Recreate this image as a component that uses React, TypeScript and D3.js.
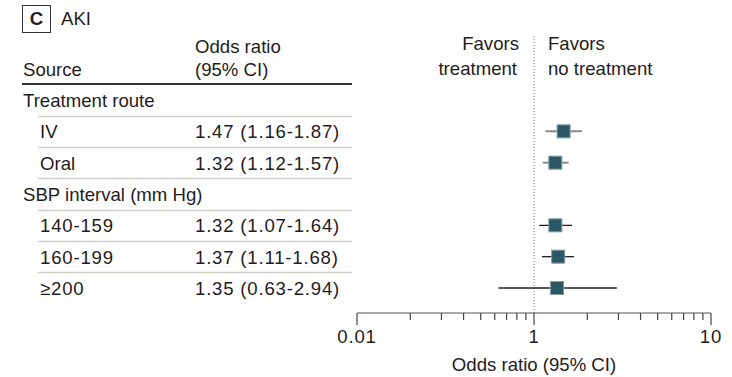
import React, { useEffect, useRef } from "react";
import * as d3 from "d3";

// rows of the forest plot
const labels = ["Treatment route", "IV", "Oral", "SBP interval (mm Hg)", "140-159", "160-199", "≥200"];
const isGroup = [true, false, false, true, false, false, false];
const oddsRatio = [null, 1.47, 1.32, null, 1.32, 1.37, 1.35];
const lower = [null, 1.16, 1.12, null, 1.07, 1.11, 0.63];
const upper = [null, 1.87, 1.57, null, 1.64, 1.68, 2.94];
const ciText = ["", "1.47 (1.16-1.87)", "1.32 (1.12-1.57)", "", "1.32 (1.07-1.64)", "1.37 (1.11-1.68)", "1.35 (0.63-2.94)"];
const grayWhisker = [false, true, true, false, false, false, false];

const majorTicks = [0.1, 1, 10];
const majorLabels = ["0.01", "1", "10"];
const minorTicks = [0.2, 0.3, 0.4, 0.5, 0.6, 0.7, 0.8, 0.9, 2, 3, 4, 5, 6, 7, 8, 9];

const FONT = "'Liberation Sans', Arial, sans-serif";
const TEXT = "#1f1c1d";
// digits in the original font run wider than in Liberation Sans
const digitSpacing = (s: string) => (/^[\d≥.\s()-]+$/.test(s) ? "0.8px" : "0px");

export default function App() {
  const ref = useRef<SVGSVGElement>(null);

  useEffect(() => {
    const svg = d3.select(ref.current);
    svg.selectAll("*").remove();

    const x = d3.scaleLog().domain([0.1, 10]).range([357, 711]);
    const y = d3.scalePoint<number>().domain(d3.range(labels.length)).range([100, 288]);
    const axisY = 313;

    const g = svg.append("g").style("font-family", FONT).style("font-size", "18.6px").attr("fill", TEXT);

    // panel letter box + title
    g.append("rect").attr("x", 22.5).attr("y", 5.5).attr("width", 28).attr("height", 27)
      .attr("fill", "none").attr("stroke", "#333").attr("stroke-width", 1);
    g.append("text").attr("x", 36.5).attr("y", 25).attr("text-anchor", "middle")
      .style("font-weight", "bold").text("C");
    g.append("text").attr("x", 61).attr("y", 25).text("AKI");

    // table header
    g.append("text").attr("x", 195).attr("y", 53).text("Odds ratio");
    g.append("text").attr("x", 195).attr("y", 76).text("(95% CI)");
    g.append("text").attr("x", 23).attr("y", 76).text("Source");
    g.append("line").attr("x1", 22).attr("x2", 352).attr("y1", 84).attr("y2", 84)
      .attr("stroke", "#333").attr("stroke-width", 2);

    // separators
    const step = y.step();
    d3.range(labels.length - 1).forEach(i => {
      const yy = Math.round(y(i)! + step / 2) + 0.5;
      g.append("line").attr("x1", 38).attr("x2", 352).attr("y1", yy).attr("y2", yy)
        .attr("stroke", "#cfcfc8").attr("stroke-width", 1.5);
    });

    // row labels
    g.selectAll(".lab").data(labels).join("text").attr("class", "lab")
      .attr("x", (d, i) => isGroup[i] ? 23 : 40)
      .attr("y", (d, i) => y(i)! + 7)
      .style("letter-spacing", d => digitSpacing(d))
      .text(d => d);
    g.selectAll(".ci").data(ciText).join("text").attr("class", "ci")
      .attr("x", 195).attr("y", (d, i) => y(i)! + 7)
      .style("letter-spacing", "0.8px").text(d => d);

    // favors labels
    g.append("text").attr("x", 519).attr("y", 50).attr("text-anchor", "end").text("Favors");
    g.append("text").attr("x", 517).attr("y", 75).attr("text-anchor", "end").text("treatment");
    g.append("text").attr("x", 548).attr("y", 50).text("Favors");
    g.append("text").attr("x", 548).attr("y", 75).text("no treatment");

    // reference line at 1
    g.append("line").attr("x1", x(1)).attr("x2", x(1)).attr("y1", 36).attr("y2", axisY)
      .attr("stroke", "#777").attr("stroke-width", 1).attr("stroke-dasharray", "1,2");

    // axis
    g.append("line").attr("x1", x(0.1)).attr("x2", x(10)).attr("y1", axisY).attr("y2", axisY)
      .attr("stroke", "#555").attr("stroke-width", 1.2);
    g.selectAll(".mt").data(minorTicks).join("line").attr("class", "mt")
      .attr("x1", d => x(d)).attr("x2", d => x(d)).attr("y1", axisY).attr("y2", axisY + 7)
      .attr("stroke", "#444").attr("stroke-width", 1.2);
    g.selectAll(".Mt").data(majorTicks).join("line").attr("class", "Mt")
      .attr("x1", d => x(d)).attr("x2", d => x(d)).attr("y1", axisY).attr("y2", axisY + 12)
      .attr("stroke", "#444").attr("stroke-width", 1.2);
    g.selectAll(".ml").data(majorTicks).join("text").attr("class", "ml")
      .attr("x", d => x(d)).attr("y", 343).attr("text-anchor", "middle")
      .style("letter-spacing", "0.8px")
      .text((d, i) => majorLabels[i]);
    g.append("text").attr("x", x(1)).attr("y", 371).attr("text-anchor", "middle").text("Odds ratio (95% CI)");

    // whiskers and squares
    const idx = d3.range(labels.length).filter(i => oddsRatio[i] != null);
    g.selectAll(".wh").data(idx).join("line").attr("class", "wh")
      .attr("x1", i => x(lower[i]!)).attr("x2", i => x(upper[i]!))
      .attr("y1", i => y(i)!).attr("y2", i => y(i)!)
      .attr("stroke", i => grayWhisker[i] ? "#8a8a8a" : "#222")
      .attr("stroke-width", i => grayWhisker[i] ? 2 : 1.3);
    const sz = 13;
    g.selectAll(".sq").data(idx).join("rect").attr("class", "sq")
      .attr("x", i => x(oddsRatio[i]!) - sz / 2).attr("y", i => y(i)! - sz / 2)
      .attr("width", sz).attr("height", sz)
      .attr("fill", "#2e5766").attr("stroke", "#7f9ba4").attr("stroke-width", 1);
  }, []);

  return (
    <svg ref={ref} width={732} height={377}
      style={{ position: "absolute", left: 0, top: 0, background: "#fff" }} />
  );
}
